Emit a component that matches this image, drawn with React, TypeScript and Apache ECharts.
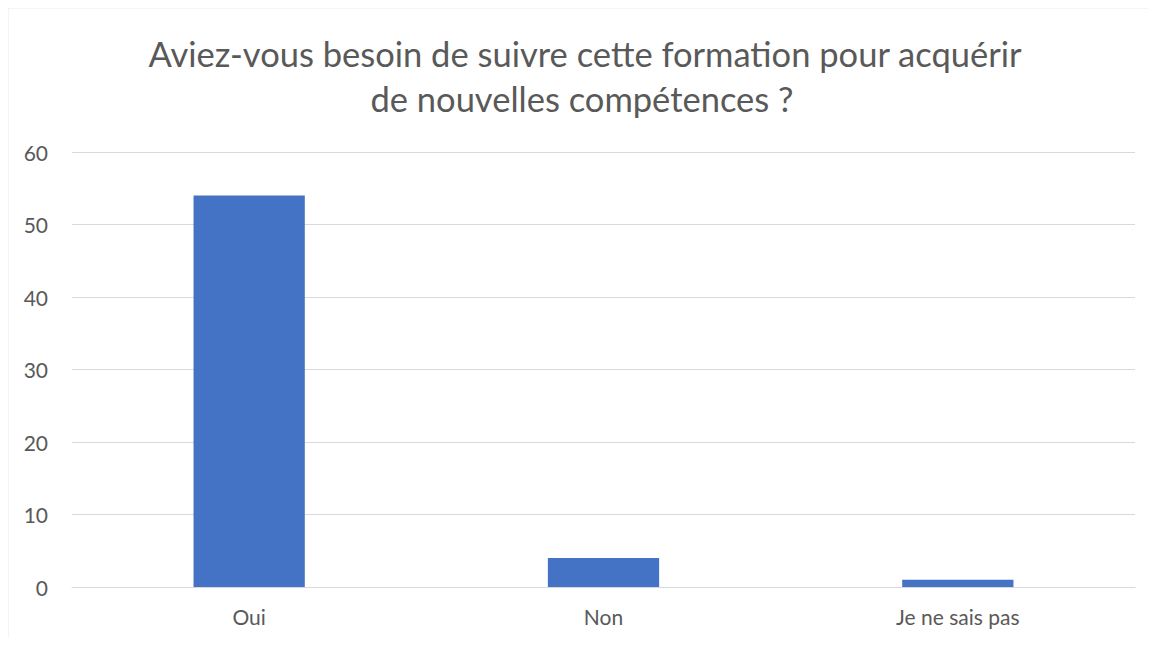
import React, { useEffect, useRef } from "react";
import * as echarts from "echarts";

const titleLines = [
  "Aviez-vous besoin de suivre cette formation pour acquérir",
  "de nouvelles compétences ?",
];
const categories = ["Oui", "Non", "Je ne sais pas"];
const values = [54, 4, 1];

const FONT = "Lato, 'Open Sans', sans-serif";
const TEXT = "#595959";

export default function App() {
  const ref = useRef<HTMLDivElement>(null);
  useEffect(() => {
    if (!ref.current) return;
    const chart = echarts.init(ref.current, null, { renderer: "svg" });
    chart.setOption({
      animation: false,
      backgroundColor: "#ffffff",
      graphic: [
        {
          type: "rect",
          silent: true,
          z: 100,
          shape: { x: 7.5, y: 7.5, width: 1200, height: 700 },
          style: { fill: "none", stroke: "#d4d4d4", lineWidth: 1.5 },
        },
        {
          type: "text",
          x: 585,
          y: 53,
          style: {
            text: titleLines[0],
            fill: TEXT,
            fontFamily: FONT,
            fontSize: 34.5,
            textAlign: "center",
            textVerticalAlign: "middle",
          },
        },
        {
          type: "text",
          x: 582,
          y: 98,
          style: {
            text: titleLines[1],
            fill: TEXT,
            fontFamily: FONT,
            fontSize: 34.5,
            textAlign: "center",
            textVerticalAlign: "middle",
          },
        },
      ],
      grid: { left: 72, right: 21, top: 152, bottom: 59, containLabel: false },
      xAxis: {
        type: "category",
        data: categories,
        axisLine: { show: true, lineStyle: { color: "#d9d9d9", width: 1 } },
        axisTick: { show: false },
        axisLabel: {
          color: TEXT,
          fontFamily: FONT,
          fontSize: 21,
          margin: 19,
        },
      },
      yAxis: {
        type: "value",
        min: 0,
        max: 60,
        interval: 10,
        axisLine: { show: false },
        axisTick: { show: false },
        splitLine: { lineStyle: { color: "#d9d9d9", width: 1 } },
        axisLabel: {
          color: TEXT,
          fontFamily: FONT,
          fontSize: 21,
          margin: 24,
        },
      },
      series: [
        {
          type: "bar",
          data: values,
          barWidth: "31.4%",
          itemStyle: { color: "#4472C4" },
        },
      ],
    });
    return () => chart.dispose();
  }, []);
  return (
    <div
      ref={ref}
      style={{ width: 1156, height: 646, margin: -8, position: "relative" }}
    />
  );
}
